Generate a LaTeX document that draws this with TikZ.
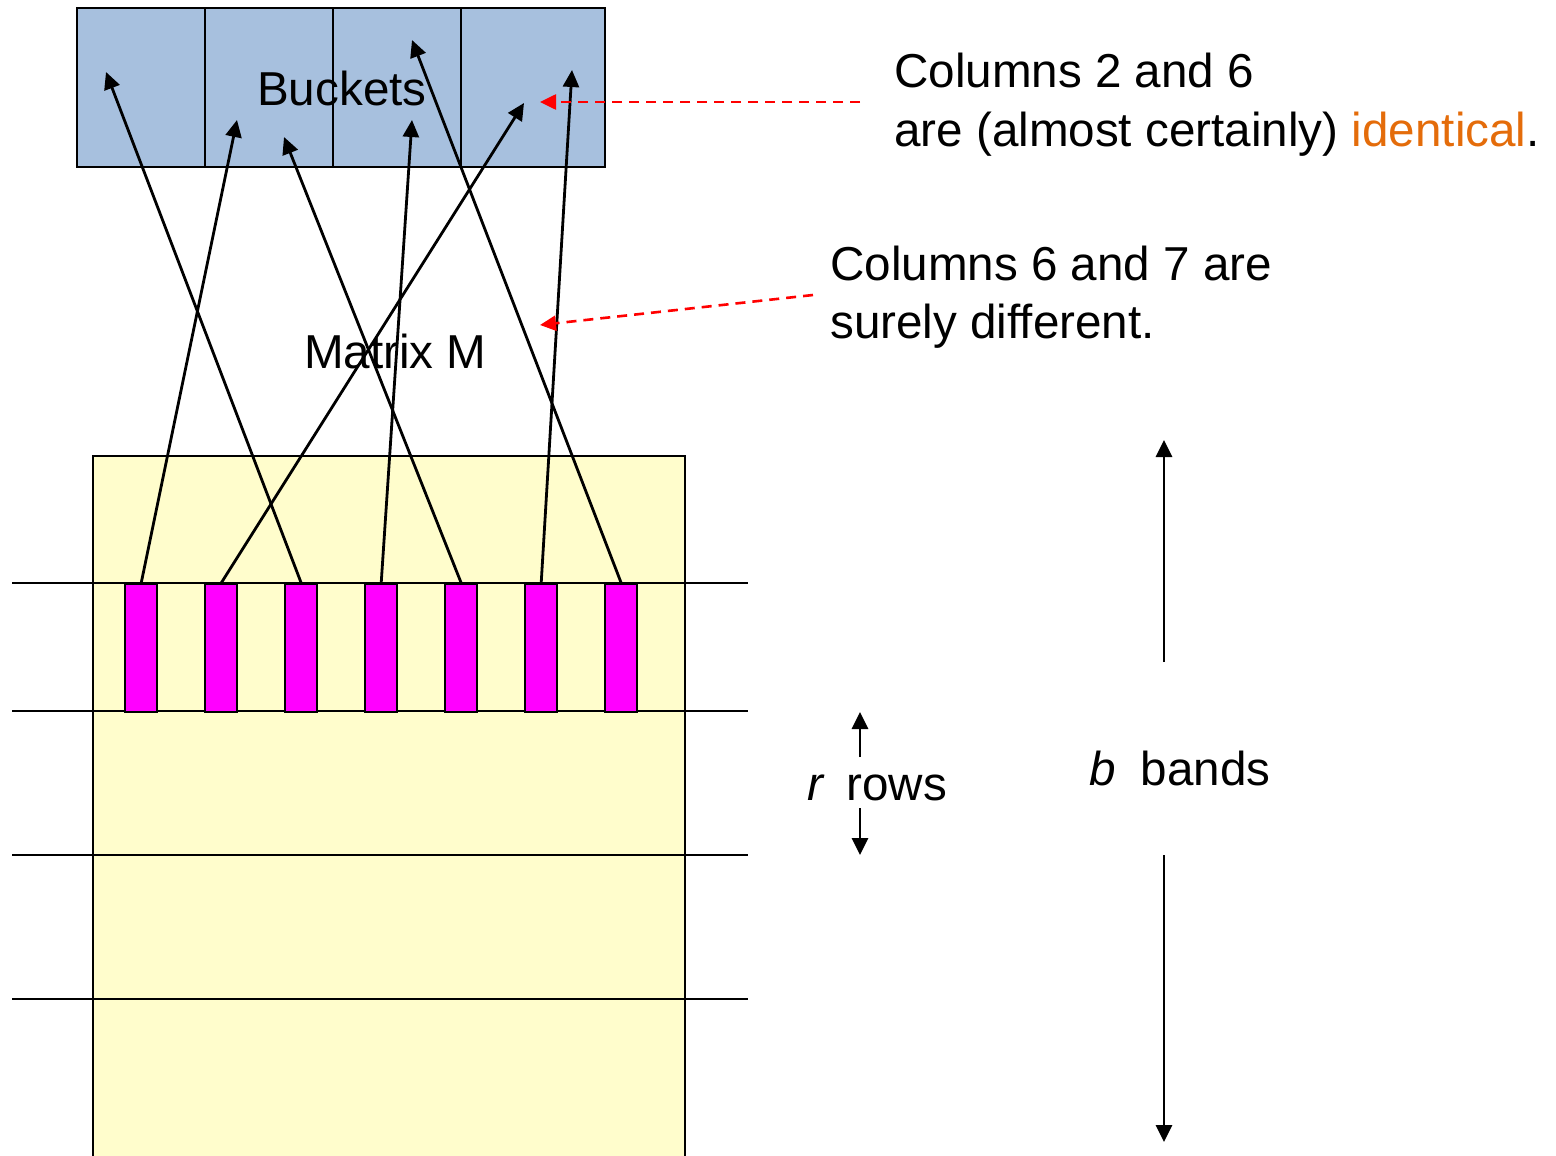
\documentclass[tikz,border=0pt]{standalone}
\usepackage{fontspec}
\setmainfont{Liberation Sans}
\usetikzlibrary{arrows.meta}
\definecolor{bucketblue}{RGB}{167,192,222}
\definecolor{matyellow}{RGB}{255,253,204}
\definecolor{barmag}{RGB}{255,0,255}
\definecolor{idorange}{RGB}{228,108,10}
\begin{document}
\begin{tikzpicture}[x=1pt,y=-1pt,line width=2.4pt,
  bigtext/.style={font=\fontsize{47.6}{58}\selectfont,inner sep=0pt,anchor=base west},
  bucket/.style={draw,fill=bucketblue,minimum height=159pt,inner sep=0pt,anchor=north west},
  bar/.style={draw,fill=barmag,minimum width=32pt,minimum height=128pt,inner sep=0pt,anchor=north west},
  hasharrow/.style={line width=2.8pt,-{Triangle[length=17pt,width=16pt]}},
  redarrow/.style={red,line width=2.6pt,dash pattern=on 10pt off 7pt,-{Triangle[length=16pt,width=15pt]}}]
\useasboundingbox (0,0) rectangle (1556,1156);
\begin{scope}
\clip (0,0) rectangle (1556,1156);
\node[draw,fill=matyellow,minimum width=592pt,minimum height=720pt,inner sep=0pt,anchor=north west] (M) at (92,455) {};
\end{scope}
% band separators
\draw (12,583) -- (748,583);
\draw (12,711) -- (748,711);
\draw (12,855) -- (748,855);
\draw (12,999) -- (748,999);
% buckets
\node[bucket,minimum width=128pt] (k1) at (76,7) {};
\node[bucket,minimum width=128pt] (k2) at (204,7) {};
\node[bucket,minimum width=128pt] (k3) at (332,7) {};
\node[bucket,minimum width=144pt] (k4) at (460,7) {};
% bars
\foreach \i in {1,...,7}{
  \node[bar] (b\i) at ({124+80*(\i-1)},583) {};
}
% labels
\node[bigtext] (bucketslabel) at (256,106) {Buckets};
\node[bigtext] (mlabel) at (303,368) {Matrix M};
\node[bigtext] (t1a) at (893,88) {Columns 2 and 6};
\node[bigtext] (t1b) at (893,146) {are (almost certainly) \textcolor{idorange}{identical}.};
\node[bigtext] (t2a) at (829,280) {Columns 6 and 7 are};
\node[bigtext] (t2b) at (829,338) {surely different.};
\node[bigtext] (rrows) at (806,800) {\textit{r}\hspace{22pt}rows};
\node[bigtext] (bbands) at (1088,785) {\textit{b}\hspace{25pt}bands};
% targets in buckets
\coordinate (h1) at (237,120);
\coordinate (h2) at (524,103);
\coordinate (h3) at (106,72);
\coordinate (h4) at (412,120);
\coordinate (h5) at (284,137);
\coordinate (h6) at (572,70);
\coordinate (h7) at (412,40);
\foreach \i in {1,...,7}{
  \draw[hasharrow] (b\i.north) -- (h\i);
}
% red dashed pointers
\coordinate (r1s) at (860,102);
\coordinate (r1e) at (540,102);
\coordinate (r2s) at (813,295);
\coordinate (r2e) at (540,325);
\draw[redarrow] (r1s) -- (r1e);
\draw[redarrow] (r2s) -- (r2e);
% r rows arrows
\coordinate (ru1) at (860,757);
\coordinate (ru2) at (860,712);
\coordinate (rd1) at (860,808);
\coordinate (rd2) at (860,855);
\draw[hasharrow] (ru1) -- (ru2);
\draw[hasharrow] (rd1) -- (rd2);
% b bands arrows
\coordinate (bu1) at (1164,662);
\coordinate (bu2) at (1164,440);
\coordinate (bd1) at (1164,855);
\coordinate (bd2) at (1164,1142);
\draw[hasharrow] (bu1) -- (bu2);
\draw[hasharrow] (bd1) -- (bd2);
\end{tikzpicture}
\end{document}
